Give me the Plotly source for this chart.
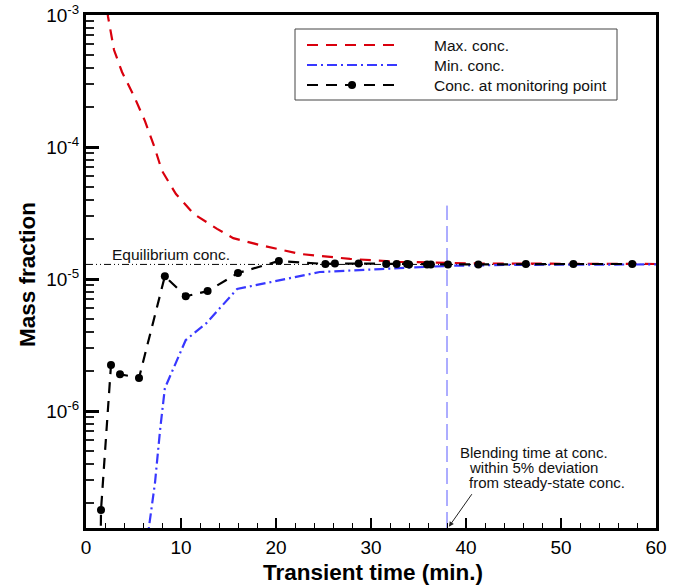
import plotly.graph_objects as go
import math

# ---------------- data ----------------
t_max = [2.0, 2.32, 2.95, 3.79, 5.05, 6.21, 7.16, 8.0, 9.47, 11.37, 13.8, 15.5, 18.3, 22.5, 27.8, 33.0, 41.5, 50.0, 60.0]
v_max = [1.5e-3, 0.97e-3, 5.43e-4, 3.7e-4, 2.43e-4, 1.57e-4, 1.02e-4, 6.6e-5, 4.4e-5, 3.1e-5,
         2.4e-5, 2.04e-5, 1.81e-5, 1.55e-5, 1.42e-5, 1.35e-5, 1.31e-5, 1.30e-5, 1.30e-5]

t_min = [6.4, 6.6, 7.26, 7.8, 8.3, 10.5, 12.7, 15.9, 20.4, 24.6, 31.0, 38.3, 45.0, 60.0]
v_min = [1.0e-7, 1.3e-7, 2.85e-7, 7.2e-7, 1.49e-6, 3.45e-6, 4.65e-6, 8.4e-6, 9.8e-6,
         1.13e-5, 1.19e-5, 1.26e-5, 1.28e-5, 1.29e-5]

t_mon = [1.5, 1.58, 2.63, 3.58, 5.58, 8.3, 10.5, 12.8, 16.0, 20.3, 25.2, 26.2, 28.7, 31.6,
         32.7, 33.8, 34.0, 35.9, 36.3, 38.1, 41.3, 46.3, 51.3, 57.5]
v_mon = [5.0e-8, 1.78e-7, 2.23e-6, 1.9e-6, 1.78e-6, 1.05e-5, 7.4e-6, 8.1e-6, 1.11e-5, 1.37e-5,
         1.30e-5, 1.31e-5, 1.31e-5, 1.30e-5, 1.30e-5, 1.30e-5, 1.29e-5, 1.29e-5, 1.29e-5,
         1.29e-5, 1.29e-5, 1.30e-5, 1.30e-5, 1.30e-5]

eq_conc = 1.29e-5
t_span = [0, 60]
blend_time = 38.0
blend_line_top = 3.6e-5
y_bottom = 1.3e-7
y_top = 1.0e-3

x_ticks = [0, 10, 20, 30, 40, 50, 60]
y_tickvals = [1e-6, 1e-5, 1e-4, 1e-3]
y_ticktext = ["10<sup>-6</sup>", "10<sup>-5</sup>", "10<sup>-4</sup>", "10<sup>-3</sup>"]

legend_labels = ["Max. conc.", "Min. conc.", "Conc. at monitoring point"]

RED = "#d9000d"
BLUE = "#3838ff"
BLACK = "#000000"
FONT = "Liberation Sans, Arial, sans-serif"

# ---------------- figure ----------------
W, H = 683, 586
L, R, T, B = 86, 27, 15, 58
PW, PH = W - L - R, H - T - B


def px(x):
    return (x - L) / PW


def py(y):
    return (H - B - y) / PH


fig = go.Figure()

fig.add_trace(go.Scatter(x=t_span, y=[eq_conc, eq_conc], mode="lines",
                         line=dict(color=BLACK, width=1, dash="7px,3px,1px,3px,1px,3px"),
                         hoverinfo="skip", showlegend=False))
fig.add_trace(go.Scatter(x=[blend_time, blend_time], y=[y_bottom, blend_line_top], mode="lines",
                         line=dict(color="#5a5aff", width=1, dash="16px,6px"),
                         hoverinfo="skip", showlegend=False))
fig.add_trace(go.Scatter(x=t_max, y=v_max, mode="lines", name=legend_labels[0],
                         line=dict(color=RED, width=2.2, dash="11px,8px"), showlegend=False))
fig.add_trace(go.Scatter(x=t_min, y=v_min, mode="lines", name=legend_labels[1],
                         line=dict(color=BLUE, width=2.2, dash="10px,4px,2px,4px"), showlegend=False))
fig.add_trace(go.Scatter(x=t_mon, y=v_mon, mode="lines+markers", name=legend_labels[2],
                         line=dict(color=BLACK, width=2.2, dash="11px,8px"),
                         marker=dict(color=BLACK, size=8, symbol="circle"), showlegend=False))

shapes = []
annotations = []

# custom legend box
shapes.append(dict(type="rect", xref="paper", yref="paper",
                   x0=px(295), x1=px(617), y0=py(100), y1=py(29),
                   line=dict(color="#444444", width=1), fillcolor="white", layer="above"))
rows = [45, 65, 85]
styles = [(RED, "11px,8px"), (BLUE, "10px,4px,2px,4px"), (BLACK, "11px,8px")]
for (col, dsh), yy, lab in zip(styles, rows, legend_labels):
    shapes.append(dict(type="line", xref="paper", yref="paper",
                       x0=px(307), x1=px(397), y0=py(yy), y1=py(yy),
                       line=dict(color=col, width=2.2, dash=dsh), layer="above"))
    annotations.append(dict(xref="paper", yref="paper", x=px(432), y=py(yy), text=lab,
                            showarrow=False, xanchor="left", yanchor="middle",
                            font=dict(size=15.5, color="#111111", family=FONT)))
shapes.append(dict(type="circle", xref="paper", yref="paper",
                   x0=px(348), x1=px(356), y0=py(89), y1=py(81),
                   fillcolor=BLACK, line=dict(color=BLACK, width=0), layer="above"))

# equilibrium label
annotations.append(dict(xref="x", yref="y", x=2.5, y=math.log10(eq_conc), text="Equilibrium conc.",
                        showarrow=False, xanchor="left", yanchor="bottom", yshift=-1,
                        font=dict(size=15.5, color="#111111", family=FONT)))

# blending annotation
blend_lines = ["Blending time at conc.", "within 5% deviation", "from steady-state conc."]
for txt, xx, yy in zip(blend_lines, [458, 467, 467], [452, 467, 482]):
    annotations.append(dict(xref="paper", yref="paper", x=px(xx), y=py(yy), text=txt,
                            showarrow=False, xanchor="left", yanchor="middle",
                            font=dict(size=15, color="#111111", family=FONT)))
annotations.append(dict(xref="x", yref="y", x=blend_time + 0.2, y=math.log10(y_bottom) + 0.01, text="",
                        showarrow=True, arrowhead=2, arrowsize=1, arrowwidth=1, arrowcolor="#222222",
                        ax=24, ay=-34))

# axis titles
annotations.append(dict(xref="paper", yref="paper", x=px(373), y=py(572), text="<b>Transient time (min.)</b>",
                        showarrow=False, xanchor="center", yanchor="middle",
                        font=dict(size=22.5, color=BLACK, family=FONT)))
annotations.append(dict(xref="paper", yref="paper", x=px(27), y=py(275), text="<b>Mass fraction</b>",
                        showarrow=False, xanchor="center", yanchor="middle", textangle=-90,
                        font=dict(size=22.5, color=BLACK, family=FONT)))

fig.update_layout(
    width=W, height=H,
    margin=dict(l=L, r=R, t=T, b=B, pad=0, autoexpand=False),
    paper_bgcolor="white", plot_bgcolor="white",
    shapes=shapes, annotations=annotations,
    showlegend=False,
    font=dict(family=FONT, color=BLACK),
)
fig.update_xaxes(range=[0, 60], tickvals=x_ticks, ticks="inside", ticklen=10, tickwidth=2,
                 tickcolor=BLACK, showline=True, linewidth=3, linecolor=BLACK, mirror=True,
                 showgrid=False, zeroline=False, automargin=False, tickfont=dict(size=19, family=FONT),
                 minor=dict(dtick=2, ticks="inside", ticklen=5, tickwidth=1, tickcolor=BLACK, showgrid=False))
fig.update_yaxes(type="log", range=[math.log10(y_bottom), math.log10(y_top)],
                 tickvals=y_tickvals, ticktext=y_ticktext, ticks="inside", ticklen=13, tickwidth=3,
                 tickcolor=BLACK, showline=True, linewidth=3, linecolor=BLACK, mirror=True,
                 showgrid=False, zeroline=False, automargin=False, tickfont=dict(size=19, family=FONT),
                 minor=dict(dtick="D1", ticks="inside", ticklen=8, tickwidth=1.5, tickcolor="#222222", showgrid=False))

fig.write_html("out.html")
